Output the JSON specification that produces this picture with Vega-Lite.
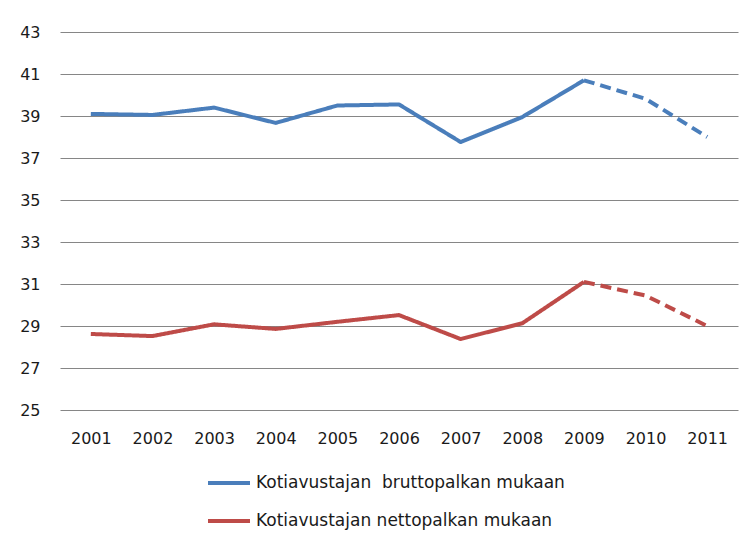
{
  "$schema": "https://vega.github.io/schema/vega-lite/v6.json",
  "autosize": "none",
  "width": 678,
  "height": 378,
  "padding": {"left": 60, "top": 32, "right": 14, "bottom": 134},
  "background": "white",
  "config": {
    "view": {"stroke": null},
    "font": "DejaVu Sans",
    "axis": {"labelFont": "DejaVu Sans", "labelFontSize": 16, "labelColor": "#1a1a1a", "ticks": false, "domain": false, "gridColor": "#868686", "gridWidth": 1, "gridOpacity": 1}
  },
  "data": {
    "values": [
      {"year": "2001", "value": 39.1, "series": "Kotiavustajan \u00a0bruttopalkan mukaan", "segment": "a"},
      {"year": "2002", "value": 39.05, "series": "Kotiavustajan \u00a0bruttopalkan mukaan", "segment": "a"},
      {"year": "2003", "value": 39.4, "series": "Kotiavustajan \u00a0bruttopalkan mukaan", "segment": "a"},
      {"year": "2004", "value": 38.67, "series": "Kotiavustajan \u00a0bruttopalkan mukaan", "segment": "a"},
      {"year": "2005", "value": 39.5, "series": "Kotiavustajan \u00a0bruttopalkan mukaan", "segment": "a"},
      {"year": "2006", "value": 39.55, "series": "Kotiavustajan \u00a0bruttopalkan mukaan", "segment": "a"},
      {"year": "2007", "value": 37.76, "series": "Kotiavustajan \u00a0bruttopalkan mukaan", "segment": "a"},
      {"year": "2008", "value": 38.95, "series": "Kotiavustajan \u00a0bruttopalkan mukaan", "segment": "a"},
      {"year": "2009", "value": 40.7, "series": "Kotiavustajan \u00a0bruttopalkan mukaan", "segment": "a"},
      {"year": "2009", "value": 40.7, "series": "Kotiavustajan \u00a0bruttopalkan mukaan", "segment": "b"},
      {"year": "2010", "value": 39.82, "series": "Kotiavustajan \u00a0bruttopalkan mukaan", "segment": "b"},
      {"year": "2011", "value": 38.0, "series": "Kotiavustajan \u00a0bruttopalkan mukaan", "segment": "b"},
      {"year": "2001", "value": 28.62, "series": "Kotiavustajan nettopalkan mukaan", "segment": "a"},
      {"year": "2002", "value": 28.52, "series": "Kotiavustajan nettopalkan mukaan", "segment": "a"},
      {"year": "2003", "value": 29.08, "series": "Kotiavustajan nettopalkan mukaan", "segment": "a"},
      {"year": "2004", "value": 28.86, "series": "Kotiavustajan nettopalkan mukaan", "segment": "a"},
      {"year": "2005", "value": 29.2, "series": "Kotiavustajan nettopalkan mukaan", "segment": "a"},
      {"year": "2006", "value": 29.52, "series": "Kotiavustajan nettopalkan mukaan", "segment": "a"},
      {"year": "2007", "value": 28.38, "series": "Kotiavustajan nettopalkan mukaan", "segment": "a"},
      {"year": "2008", "value": 29.13, "series": "Kotiavustajan nettopalkan mukaan", "segment": "a"},
      {"year": "2009", "value": 31.1, "series": "Kotiavustajan nettopalkan mukaan", "segment": "a"},
      {"year": "2009", "value": 31.1, "series": "Kotiavustajan nettopalkan mukaan", "segment": "b"},
      {"year": "2010", "value": 30.45, "series": "Kotiavustajan nettopalkan mukaan", "segment": "b"},
      {"year": "2011", "value": 29.0, "series": "Kotiavustajan nettopalkan mukaan", "segment": "b"}
    ]
  },
  "mark": {"type": "line", "strokeWidth": 4, "strokeCap": "butt", "strokeJoin": "round"},
  "encoding": {
    "x": {
      "field": "year", "type": "ordinal",
      "scale": {"type": "point", "padding": 0.5},
      "axis": {"title": null, "labelAngle": 0, "labelPadding": 20, "grid": false}
    },
    "y": {
      "field": "value", "type": "quantitative",
      "scale": {"domain": [25, 43], "nice": false, "zero": false},
      "axis": {"title": null, "values": [25, 27, 29, 31, 33, 35, 37, 39, 41, 43], "labelPadding": 20, "grid": true}
    },
    "color": {
      "field": "series", "type": "nominal",
      "scale": {"domain": ["Kotiavustajan \u00a0bruttopalkan mukaan", "Kotiavustajan nettopalkan mukaan"], "range": ["#4A7EBB", "#BE4B48"]},
      "legend": {
        "title": null, "orient": "none", "legendX": 146, "legendY": 428,
        "direction": "vertical", "symbolType": "stroke", "symbolSize": 1764, "symbolStrokeWidth": 4,
        "labelFont": "DejaVu Sans", "labelFontSize": 17, "labelColor": "#1a1a1a", "labelOffset": 4,
        "labelLimit": 0, "rowPadding": 7
      }
    },
    "strokeDash": {
      "field": "segment", "type": "nominal",
      "scale": {"domain": ["a", "b"], "range": [[1, 0], [11, 6]]},
      "legend": null
    }
  }
}
